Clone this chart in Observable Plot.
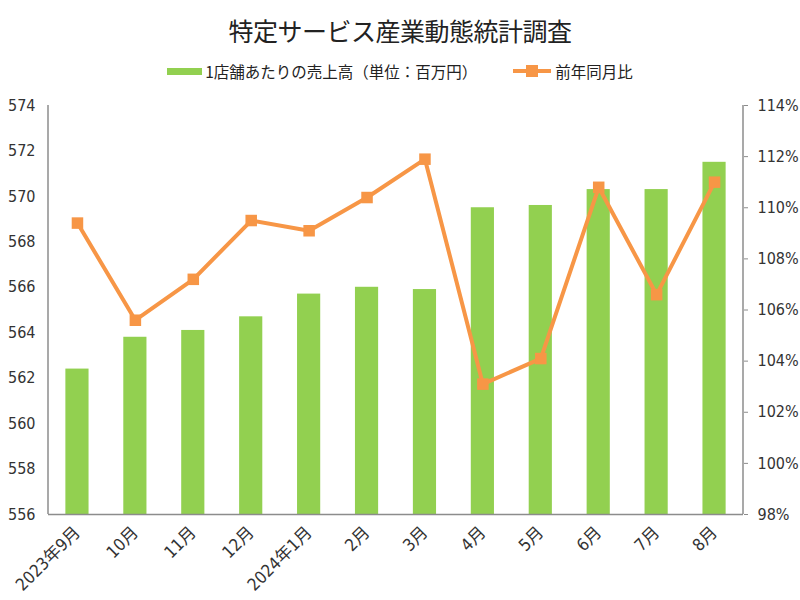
<!DOCTYPE html>
<html>
<head>
<meta charset="utf-8">
<script src="https://cdn.jsdelivr.net/npm/d3@7"></script>
<script src="https://cdn.jsdelivr.net/npm/@observablehq/plot@0.6"></script>
<style>
  body { margin: 0; background: #fff; font-family: "Liberation Sans Narrow", "DejaVu Sans Condensed", "Noto Sans CJK JP", sans-serif; color: #333; }
  #wrap { width: 800px; height: 600px; position: relative; }
  #title { position: absolute; top: 12px; left: 0; width: 800px; text-align: center; font-size: 25px; font-family: "Noto Sans CJK JP", sans-serif; color: #222; letter-spacing: -0.5px; }
  #legend { position: absolute; top: 60px; left: 0; width: 800px; display: flex; justify-content: center; align-items: center; font-size: 15.5px; font-family: "Noto Sans CJK JP", sans-serif; color: #222; }
  .item { display: flex; align-items: center; margin: 0 18px; }
  .sw-bar { width: 35px; height: 7px; background: #92D050; margin-right: 3px; }
  .sw-line { position: relative; width: 38px; height: 12px; margin-right: 4px; }
  .sw-line .ln { position: absolute; left: 0; top: 4px; width: 38px; height: 4px; background: #F79646; }
  .sw-line .mk { position: absolute; left: 13px; top: 0; width: 12px; height: 12px; background: #F79646; }
  #chart { position: absolute; top: 92px; left: 0; }
</style>
</head>
<body>
<div id="wrap">
  <div id="title">特定サービス産業動態統計調査</div>
  <div id="legend">
    <div class="item"><div class="sw-bar"></div><span>1店舗あたりの売上高（単位：百万円）</span></div>
    <div class="item"><div class="sw-line"><div class="ln"></div><div class="mk"></div></div><span>前年同月比</span></div>
  </div>
  <div id="chart"></div>
</div>
<script>
const months = ["2023年9月","10月","11月","12月","2024年1月","2月","3月","4月","5月","6月","7月","8月"];
const sales = [562.4, 563.8, 564.1, 564.7, 565.7, 566.0, 565.9, 569.5, 569.6, 570.3, 570.3, 571.5];
const yoy = [109.4, 105.6, 107.2, 109.5, 109.1, 110.4, 111.9, 103.1, 104.1, 110.8, 106.6, 111.0];
const leftTicks = [556, 558, 560, 562, 564, 566, 568, 570, 572, 574];
const rightTicks = [98, 100, 102, 104, 106, 108, 110, 112, 114];

const L0 = 556, L1 = 574, R0 = 98, R1 = 114;
const toLeft = v => L0 + (v - R0) * (L1 - L0) / (R1 - R0);
const fromLeft = v => R0 + (v - L0) * (R1 - R0) / (L1 - L0);

const barData = months.map((m, i) => ({month: m, value: sales[i]}));
const lineData = months.map((m, i) => ({month: m, value: toLeft(yoy[i])}));

const GREEN = "#92D050", ORANGE = "#F79646", AXIS = "#8c8c8c";
const FONT = '"Liberation Sans Narrow", "DejaVu Sans Condensed", "Noto Sans CJK JP", sans-serif';

const chart = Plot.plot({
  width: 800,
  height: 508,
  marginTop: 13,
  marginBottom: 86,
  marginLeft: 48,
  marginRight: 57,
  style: {fontFamily: FONT, fontSize: "16px", color: "#333", background: "transparent"},
  x: {domain: months, paddingInner: 0.6, paddingOuter: 0.3, round: false, label: null},
  y: {domain: [L0, L1], label: null},
  marks: [
    Plot.barY(barData, {x: "month", y1: L0, y2: "value", fill: GREEN}),
    Plot.line(lineData, {x: "month", y: "value", stroke: ORANGE, strokeWidth: 4}),
    Plot.dot(lineData, {x: "month", y: "value", symbol: "square", r: 6.5, fill: ORANGE, stroke: "none"}),
    Plot.axisY({ticks: leftTicks, tickSize: 0, tickPadding: 13, label: null, tickFormat: d => String(d)}),
    Plot.axisY({anchor: "right", ticks: rightTicks.map(toLeft), tickSize: 4, tickPadding: 10, stroke: AXIS, label: null,
      tickFormat: d => Math.round(fromLeft(d)) + "%"}),
    Plot.axisX({tickSize: 0, tickRotate: -45, tickPadding: 15, fontSize: 17, label: null}),
    Plot.ruleY([L0], {stroke: AXIS, strokeWidth: 1.5})
  ]
});

// vertical axis lines at the plot edges
const xr = chart.scale("x").range;
const yr = chart.scale("y").range;
const svg = d3.select(chart);
[xr[0], xr[1]].forEach(x => {
  svg.append("line")
    .attr("x1", x).attr("x2", x)
    .attr("y1", yr[0]).attr("y2", yr[1])
    .attr("stroke", AXIS).attr("stroke-width", 1.5);
});
svg.selectAll("text").attr("fill", "#333");
document.getElementById("chart").appendChild(chart);
</script>
</body>
</html>
